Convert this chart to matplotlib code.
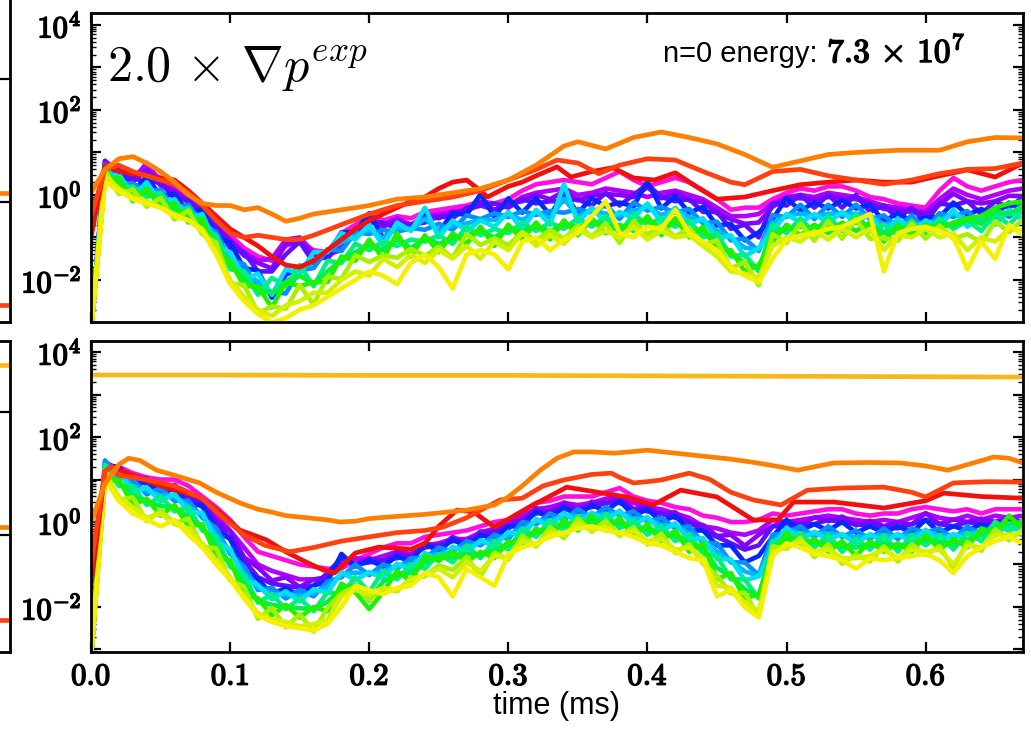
import numpy as np
import matplotlib
matplotlib.use('Agg')
import matplotlib.pyplot as plt
from matplotlib import patheffects
from matplotlib.ticker import FixedLocator, FuncFormatter, LogLocator, NullFormatter

plt.rcParams['mathtext.fontset'] = 'cm'

# sample times (ms) of the n>=3 mode energy traces
t_grid = np.round(np.arange(0, 0.675, 0.01), 2)

# ---------------- top panel : log10(energy) ----------------
top_n1 = [-3.2, 0.7, 0.6, 0.45, 0.55, 0.4, 0.15, 0.0, -0.3, -0.6,
          -0.95, -1.25, -1.45, -1.55, -1.2, -1.1, -1.3, -1.35, -0.9, -0.7,
          -0.45, -0.6, -0.5, -0.55, -0.4, -0.35, -0.3, -0.25, -0.15, -0.2,
          -0.1, 0.1, 0.25, 0.3, 0.35, 0.3, 0.25, 0.4, 0.55, 0.35,
          0.2, 0.3, 0.4, 0.3, 0.1, -0.1, -0.35, -0.3, -0.3, -0.1,
          0.05, 0.15, 0.1, 0.2, 0.2, 0.1, -0.05, -0.1, -0.2, -0.25,
          -0.3, 0.1, 0.4, 0.2, 0.1, 0.2, 0.3, 0.35]
top_n2 = [-3.2, 0.8, 0.55, 0.35, 0.75, 0.3, 0.1, -0.1, -0.35, -0.7,
          -1.05, -1.35, -1.55, -1.5, -1.05, -1.0, -1.35, -1.45, -1.1, -0.85,
          -0.6, -0.7, -0.55, -0.7, -0.5, -0.45, -0.4, -0.35, -0.25, -0.35,
          -0.25, -0.05, 0.05, 0.1, 0.15, 0.0, 0.05, 0.15, 0.1, 0.05,
          -0.05, 0.05, 0.1, 0.0, -0.1, -0.3, -0.5, -0.5, -0.45, -0.2,
          -0.05, 0.0, -0.05, 0.05, 0.0, -0.05, -0.15, -0.25, -0.3, -0.35,
          -0.4, -0.1, 0.15, 0.0, -0.1, 0.0, 0.1, 0.15]
top_xa = [-3.2, 0.72, 0.55, 0.3, 0.6, 0.22, 0.08, -0.18, -0.35, -0.78,
          -1.07, -1.43, -1.6, -1.73, -1.15, -1.13, -1.4, -1.5, -1.12, -0.9,
          -0.55, -0.75, -0.6, -0.78, -0.5, -0.55, -0.4, -0.4, -0.17, -0.35,
          -0.2, -0.15, 0.0, -0.1, 0.08, -0.13, -0.02, 0.02, 0.0, -0.05,
          0.18, -0.08, 0.05, -0.13, -0.17, -0.43, -0.57, -0.68, -0.65, -0.28,
          -0.07, -0.08, -0.1, -0.05, -0.07, -0.1, -0.2, -0.33, -0.35, -0.4,
          -0.45, -0.23, 0.03, -0.15, -0.2, -0.15, -0.02, -0.03]
top_n3 = [-3.2, 0.8, 0.4, 0.4, 0.3, 0.3, -0.1, -0.1, -0.5, -0.7,
          -1.25, -1.35, -1.8, -1.8, -1.4, -1.1, -1.6, -1.4, -1.3, -0.8,
          -0.65, -0.65, -0.8, -0.7, -0.65, -0.5, -0.55, -0.3, -0.25, -0.2,
          -0.3, -0.1, -0.2, -0.15, -0.15, -0.1, -0.25, 0.05, -0.25, 0.0,
          0.25, -0.05, -0.15, -0.1, -0.4, -0.4, -0.8, -0.7, -1.0, -0.2,
          -0.25, 0.0, -0.3, 0.0, -0.3, 0.0, -0.4, -0.25, -0.55, -0.3,
          -0.65, -0.2, -0.25, -0.15, -0.45, -0.15, -0.3, -0.05]
top_n4 = [-3.2, 0.53, 0.57, 0.08, 0.42, -0.02, 0.02, -0.42, -0.33, -0.97,
          -1.13, -1.72, -1.78, -2.42, -1.88, -1.72, -1.58, -1.42, -0.88, -0.87,
          -0.43, -1.02, -0.73, -0.82, -0.48, -0.87, -0.43, -0.47, 0.02, -0.52,
          -0.08, -0.42, -0.08, -0.47, 0.02, -0.42, -0.08, -0.27, -0.18, -0.27,
          0.32, -0.32, -0.03, -0.42, -0.28, -0.72, -0.68, -1.07, -0.88, -0.57,
          -0.08, -0.37, -0.18, -0.32, -0.13, -0.32, -0.23, -0.62, -0.43, -0.62,
          -0.53, -0.52, -0.18, -0.47, -0.33, -0.47, -0.18, -0.37]
top_n5 = [-3.2, 0.72, 0.28, 0.27, 0.08, 0.12, -0.32, -0.23, -0.67, -0.88,
          -1.52, -1.63, -2.22, -2.28, -2.32, -1.78, -1.72, -1.28, -1.32, -0.88,
          -0.92, -0.83, -0.87, -0.78, -0.82, -0.68, -0.82, -0.48, -0.57, -0.43,
          -0.52, -0.38, -0.47, -0.38, -0.42, -0.33, -0.42, -0.23, -0.57, -0.18,
          -0.37, -0.28, -0.42, -0.33, -0.67, -0.63, -1.07, -1.03, -1.32, -0.48,
          -0.52, -0.23, -0.57, -0.23, -0.52, -0.23, -0.57, -0.48, -0.77, -0.48,
          -0.82, -0.43, -0.52, -0.38, -0.67, -0.33, -0.52, -0.23]
top_xb = [-3.2, 0.56, 0.39, 0.11, 0.19, -0.04, -0.21, -0.39, -0.56, -1.04,
          -1.44, -1.82, -2.04, -2.32, -2.04, -1.82, -1.54, -1.32, -1.11, -0.97,
          -0.81, -1.02, -0.76, -0.82, -0.56, -0.84, -0.71, -0.67, -0.59, -0.59,
          -0.46, -0.59, -0.41, -0.54, -0.09, -0.49, -0.36, -0.44, -0.49, -0.37,
          -0.29, -0.47, -0.36, -0.52, -0.61, -0.84, -1.01, -1.24, -1.29, -0.67,
          -0.49, -0.44, -0.51, -0.44, -0.46, -0.44, -0.51, -0.69, -0.66, -0.67,
          -0.71, -0.59, -0.44, -0.57, -0.59, -0.52, -0.44, -0.42]
top_n6 = [-3.2, 0.4, 0.5, -0.05, 0.3, -0.2, -0.1, -0.55, -0.45, -1.2,
          -1.35, -2.0, -1.85, -2.35, -1.75, -1.85, -1.35, -1.35, -0.9, -1.05,
          -0.7, -1.2, -0.65, -0.85, -0.3, -1.0, -0.6, -0.85, -0.6, -0.75,
          -0.4, -0.8, -0.35, -0.7, 0.25, -0.65, -0.3, -0.65, -0.4, -0.55,
          -0.2, -0.65, -0.3, -0.7, -0.55, -1.05, -0.95, -1.45, -1.25, -0.85,
          -0.45, -0.65, -0.45, -0.65, -0.4, -0.65, -0.45, -0.9, -0.55, -0.85,
          -0.6, -0.75, -0.35, -0.75, -0.5, -0.7, -0.35, -0.6]
top_n7 = [-3.2, 0.7, 0.15, 0.2, -0.05, 0.05, -0.45, -0.3, -0.8, -0.95,
          -1.75, -1.8, -2.35, -1.95, -2.15, -1.65, -2.15, -1.55, -1.6, -1.15,
          -1.3, -1.1, -1.2, -1.05, -1.1, -0.95, -1.15, -0.75, -0.95, -0.8,
          -0.9, -0.65, -0.85, -0.65, -0.8, -0.55, -0.75, -0.5, -0.9, -0.45,
          -0.7, -0.55, -0.75, -0.6, -1.0, -0.9, -1.45, -1.4, -1.8, -0.7,
          -0.9, -0.55, -0.9, -0.5, -0.85, -0.45, -0.85, -0.7, -0.95, -0.6,
          -0.95, -0.55, -0.8, -0.6, -0.85, -0.45, -0.7, -0.35]
top_xc = [-3.2, 0.53, 0.28, 0.03, 0.05, -0.13, -0.33, -0.48, -0.68, -1.15,
          -1.65, -1.98, -2.25, -2.3, -2.1, -1.9, -2.1, -1.8, -1.53, -1.35,
          -1.18, -1.3, -1.05, -1.25, -1.03, -1.15, -1.03, -0.95, -0.85, -1.0,
          -0.8, -0.85, -0.75, -0.85, -0.7, -0.75, -0.65, -0.7, -0.8, -0.65,
          -0.6, -0.75, -0.65, -0.8, -0.88, -1.1, -1.38, -1.6, -1.73, -0.9,
          -0.8, -0.75, -0.8, -0.7, -0.75, -0.65, -0.75, -0.9, -0.83, -0.78,
          -0.83, -0.68, -0.73, -0.58, -0.68, -0.38, -0.45, -0.25]
top_n8 = [-3.2, 0.35, 0.4, -0.15, 0.15, -0.3, -0.2, -0.65, -0.55, -1.35,
          -1.55, -2.15, -2.15, -2.65, -2.05, -2.15, -2.05, -2.05, -1.45, -1.55,
          -1.05, -1.5, -0.9, -1.45, -0.95, -1.35, -0.9, -1.15, -0.75, -1.2,
          -0.7, -1.05, -0.65, -1.05, -0.6, -0.95, -0.55, -0.9, -0.7, -0.85,
          -0.5, -0.95, -0.55, -1.0, -0.75, -1.3, -1.3, -1.8, -1.65, -1.1,
          -0.7, -0.95, -0.7, -0.9, -0.65, -0.85, -0.65, -1.1, -0.7, -0.95,
          -0.7, -0.8, -0.65, -0.55, -0.5, -0.3, -0.2, -0.15]
top_n9 = [-3.2, 0.58, 0.02, 0.13, -0.28, -0.07, -0.58, -0.37, -0.93, -1.12,
          -2.08, -2.12, -2.78, -2.62, -2.68, -2.12, -2.58, -1.92, -1.98, -1.42,
          -1.58, -1.42, -1.48, -1.27, -1.43, -1.22, -1.48, -0.92, -1.18, -1.02,
          -1.18, -0.87, -1.08, -0.82, -1.03, -0.72, -0.98, -0.67, -1.13, -0.62,
          -0.93, -0.72, -0.98, -0.77, -1.18, -1.07, -1.73, -1.57, -2.13, -0.92,
          -1.13, -0.67, -1.08, -0.62, -1.03, -0.57, -1.03, -1.02, -1.08, -0.67,
          -1.03, -0.72, -1.03, -0.92, -1.13, -0.62, -0.88, -0.57]
top_xd = [-3.2, 0.45, 0.15, -0.05, -0.15, -0.3, -0.45, -0.6, -0.8, -1.35,
          -2.0, -2.4, -2.7, -2.85, -2.6, -2.5, -2.3, -2.3, -2.0, -1.8,
          -1.9, -1.5, -1.7, -1.4, -1.6, -1.3, -1.5, -1.2, -1.5, -1.1,
          -1.3, -0.9, -1.2, -0.95, -1.15, -0.8, -1.0, -0.85, -1.0, -0.75,
          -1.05, -0.85, -1.0, -0.95, -1.2, -1.45, -1.8, -1.85, -1.95, -1.2,
          -1.0, -1.1, -0.85, -1.05, -0.8, -1.0, -0.8, -1.3, -0.95, -1.0,
          -0.8, -1.0, -0.9, -1.3, -1.0, -1.1, -0.8, -0.85]
top_n10 = [-3.2, 0.3, 0.1, -0.1, -0.2, -0.3, -0.5, -0.6, -0.85, -1.4,
           -2.1, -2.5, -2.8, -3.0, -2.9, -2.7, -2.6, -2.4, -2.2, -2.0,
           -1.8, -1.9, -2.1, -1.6, -1.4, -1.7, -2.2, -1.4, -1.3, -1.4,
           -1.75, -1.1, -1.0, -1.3, -1.05, -0.9, -0.5, -0.15, -0.9, -1.0,
           -0.75, -0.8, -0.35, -0.9, -1.1, -1.3, -1.7, -1.9, -2.05, -1.5,
           -1.05, -0.95, -0.9, -0.8, -0.75, -0.6, -0.45, -1.8, -0.9, -0.8,
           -0.75, -0.85, -1.0, -1.75, -1.1, -1.5, -0.7, -0.95]

top_orange_t = [0.0, 0.01, 0.02, 0.03, 0.04, 0.05, 0.06, 0.07, 0.08, 0.09,
                0.10, 0.11, 0.12, 0.13, 0.14, 0.15, 0.16, 0.18, 0.20, 0.22,
                0.24, 0.26, 0.28, 0.30, 0.32, 0.34, 0.35, 0.37, 0.39, 0.41,
                0.43, 0.45, 0.47, 0.49, 0.51, 0.53, 0.55, 0.58, 0.61, 0.63,
                0.65, 0.67]
top_orange = [0.05, 0.6, 0.85, 0.9, 0.75, 0.55, 0.3, 0.0, -0.2, -0.25,
              -0.25, -0.35, -0.3, -0.45, -0.62, -0.55, -0.45, -0.35, -0.25, -0.1,
              -0.05, 0.05, 0.15, 0.35, 0.7, 1.15, 1.25, 1.08, 1.35, 1.48,
              1.35, 1.2, 0.95, 0.65, 0.8, 0.95, 1.0, 1.05, 1.05, 1.25,
              1.35, 1.34]
top_redor_t = [0.0, 0.01, 0.02, 0.03, 0.04, 0.05, 0.06, 0.07, 0.08, 0.09,
               0.10, 0.11, 0.12, 0.13, 0.14, 0.15, 0.16, 0.18, 0.20, 0.22,
               0.24, 0.26, 0.28, 0.30, 0.32, 0.335, 0.35, 0.365, 0.38, 0.40,
               0.42, 0.44, 0.46, 0.47, 0.49, 0.51, 0.53, 0.55, 0.57, 0.59,
               0.61, 0.63, 0.65, 0.67]
top_redor = [-0.5, 0.6, 0.7, 0.55, 0.45, 0.35, 0.25, 0.05, -0.25, -0.6,
             -0.9, -1.0, -0.95, -1.0, -1.05, -1.05, -0.95, -0.7, -0.45, -0.25,
             -0.15, -0.05, 0.1, 0.35, 0.6, 0.82, 0.75, 0.5, 0.7, 0.85,
             0.82, 0.55, 0.3, 0.24, 0.55, 0.6, 0.45, 0.35, 0.25, 0.35,
             0.5, 0.6, 0.62, 0.75]
top_red_t = [0.0, 0.01, 0.02, 0.03, 0.04, 0.05, 0.06, 0.07, 0.08, 0.09,
             0.10, 0.11, 0.12, 0.13, 0.14, 0.15, 0.16, 0.17, 0.18, 0.19,
             0.20, 0.21, 0.22, 0.23, 0.24, 0.25, 0.26, 0.27, 0.28, 0.285,
             0.30, 0.31, 0.32, 0.335, 0.345, 0.36, 0.375, 0.39, 0.405, 0.42,
             0.435, 0.45, 0.47, 0.49, 0.51, 0.53, 0.55, 0.57, 0.59, 0.61,
             0.63, 0.65, 0.67]
top_red = [-1.0, 0.7, 0.55, 0.5, 0.45, 0.4, 0.35, 0.1, -0.2, -0.5,
           -0.8, -1.0, -1.2, -1.45, -1.65, -1.7, -1.55, -1.3, -1.05, -0.8,
           -0.6, -0.45, -0.3, -0.15, -0.05, 0.15, 0.3, 0.35, 0.1, -0.05,
           0.2, 0.3, 0.45, 0.66, 0.42, 0.55, 0.64, 0.4, 0.35, 0.52,
           0.2, -0.1, -0.05, 0.1, 0.24, 0.3, 0.35, 0.3, 0.3, 0.45,
           0.59, 0.42, 0.75]

# ---------------- bottom panel : log10(energy) ----------------
bot_n1 = [-3.2, 1.3, 1.3, 1.15, 1.05, 1.0, 1.0, 0.85, 0.6, 0.35,
          0.05, -0.35, -0.7, -0.8, -0.9, -1.0, -1.05, -1.1, -1.1, -0.9,
          -0.75, -0.6, -0.5, -0.5, -0.35, -0.3, -0.25, -0.2, -0.1, 0.0,
          0.05, 0.25, 0.45, 0.5, 0.6, 0.6, 0.6, 0.7, 0.8, 0.6,
          0.5, 0.45, 0.35, 0.3, 0.15, 0.1, 0.0, 0.0, 0.05, 0.2,
          0.15, 0.2, 0.25, 0.3, 0.3, 0.2, 0.15, 0.2, 0.2, 0.3,
          0.35, 0.3, 0.25, 0.3, 0.2, 0.3, 0.3, 0.3]
bot_n2 = [-3.2, 1.35, 1.2, 1.1, 1.0, 0.9, 0.85, 0.7, 0.45, 0.15,
          -0.2, -0.6, -1.0, -1.15, -1.25, -1.35, -1.35, -1.3, -1.0, -0.85,
          -0.9, -0.8, -0.7, -0.75, -0.55, -0.5, -0.4, -0.4, -0.25, -0.15,
          -0.05, 0.15, 0.3, 0.35, 0.45, 0.4, 0.45, 0.55, 0.6, 0.45,
          0.35, 0.3, 0.2, 0.1, -0.1, -0.15, -0.25, -0.3, -0.2, 0.05,
          0.0, 0.05, 0.1, 0.15, 0.1, 0.05, 0.0, 0.05, 0.0, 0.1,
          0.2, 0.1, 0.05, 0.15, 0.05, 0.15, 0.1, 0.15]
bot_xa = [-3.2, 1.3, 1.3, 0.97, 1.03, 0.8, 0.88, 0.57, 0.48, 0.0,
          -0.22, -0.83, -1.07, -1.38, -1.3, -1.53, -1.35, -1.33, -0.85, -1.0,
          -0.85, -0.93, -0.7, -0.86, -0.5, -0.6, -0.35, -0.51, -0.22, -0.26,
          -0.02, 0.02, 0.33, 0.22, 0.46, 0.27, 0.48, 0.42, 0.6, 0.3,
          0.38, 0.17, 0.23, -0.03, -0.07, -0.33, -0.3, -0.56, -0.3, -0.1,
          0.03, -0.08, 0.11, 0.02, 0.13, -0.08, 0.03, -0.1, 0.0, -0.06,
          0.21, -0.05, 0.06, 0.0, 0.08, 0.0, 0.13, -0.03]
bot_n3 = [-3.2, 1.4, 1.25, 1.0, 0.9, 0.85, 0.75, 0.6, 0.35, 0.0,
          -0.4, -0.9, -1.3, -1.45, -1.5, -1.55, -1.5, -1.2, -0.85, -1.0,
          -0.95, -0.9, -0.85, -0.8, -0.6, -0.55, -0.45, -0.45, -0.35, -0.2,
          -0.15, 0.05, 0.2, 0.25, 0.3, 0.3, 0.35, 0.45, 0.45, 0.3,
          0.25, 0.2, 0.1, 0.0, -0.2, -0.35, -0.5, -0.65, -0.55, -0.1,
          -0.1, -0.05, -0.05, 0.05, 0.0, -0.05, -0.1, -0.1, -0.15, -0.05,
          0.05, -0.05, -0.1, 0.0, -0.05, 0.0, 0.0, -0.05]
bot_n4 = [-3.2, 1.3, 1.3, 0.85, 0.95, 0.65, 0.8, 0.4, 0.4, -0.2,
          -0.4, -1.1, -1.35, -1.7, -1.55, -1.75, -1.5, -1.4, -0.75, -1.05,
          -0.9, -1.05, -0.8, -0.95, -0.5, -0.7, -0.4, -0.6, -0.3, -0.4,
          -0.1, -0.1, 0.25, 0.1, 0.35, 0.15, 0.4, 0.25, 0.5, 0.15,
          0.3, 0.0, 0.15, -0.2, -0.2, -0.55, -0.55, -0.95, -0.8, -0.35,
          0.05, -0.2, -0.05, -0.2, 0.0, -0.25, -0.1, -0.25, -0.1, -0.25,
          0.05, -0.25, -0.1, -0.2, -0.05, -0.2, 0.05, -0.2]
bot_n5 = [-3.2, 1.45, 1.05, 1.0, 0.65, 0.8, 0.5, 0.5, 0.1, -0.15,
          -0.75, -1.05, -1.6, -1.55, -1.8, -1.6, -1.75, -1.4, -1.3, -1.0,
          -1.25, -1.0, -1.1, -0.85, -0.85, -0.6, -0.7, -0.45, -0.55, -0.3,
          -0.4, 0.0, -0.05, 0.2, 0.05, 0.3, 0.1, 0.35, 0.15, 0.25,
          0.0, 0.1, -0.15, -0.1, -0.5, -0.5, -0.95, -0.95, -1.25, -0.3,
          -0.25, -0.1, -0.35, -0.1, -0.35, -0.2, -0.4, -0.15, -0.4, -0.15,
          -0.25, -0.15, -0.4, -0.1, -0.3, -0.05, -0.2, -0.05]
bot_xb = [-3.2, 1.32, 1.14, 0.84, 0.74, 0.64, 0.59, 0.37, 0.16, -0.31,
          -0.69, -1.21, -1.54, -1.69, -1.72, -1.74, -1.67, -1.54, -1.24, -1.19,
          -1.22, -1.16, -1.04, -0.99, -0.79, -0.76, -0.64, -0.59, -0.49, -0.44,
          -0.32, -0.16, 0.01, 0.04, 0.14, 0.14, 0.16, 0.19, 0.21, 0.09,
          0.06, -0.06, -0.09, -0.26, -0.44, -0.69, -0.92, -1.16, -1.27, -0.46,
          -0.19, -0.26, -0.29, -0.26, -0.32, -0.36, -0.34, -0.31, -0.34, -0.31,
          -0.22, -0.31, -0.34, -0.26, -0.24, -0.19, -0.12, -0.19]
bot_n6 = [-3.2, 1.18, 1.22, 0.68, 0.82, 0.48, 0.67, 0.23, 0.22, -0.47,
          -0.63, -1.37, -1.48, -1.82, -1.63, -1.87, -1.58, -1.67, -1.18, -1.37,
          -1.18, -1.32, -0.98, -1.12, -0.73, -0.92, -0.58, -0.72, -0.43, -0.57,
          -0.23, -0.32, 0.07, -0.12, 0.22, -0.02, 0.22, 0.03, 0.27, -0.07,
          0.12, -0.22, -0.03, -0.42, -0.38, -0.87, -0.88, -1.37, -1.28, -0.62,
          -0.13, -0.42, -0.23, -0.42, -0.28, -0.52, -0.28, -0.47, -0.28, -0.47,
          -0.18, -0.47, -0.28, -0.42, -0.18, -0.32, -0.03, -0.32]
bot_n7 = [-3.2, 1.35, 0.85, 0.85, 0.4, 0.6, 0.25, 0.35, -0.2, -0.35,
          -1.05, -1.25, -1.9, -1.7, -2.05, -1.8, -2.1, -1.65, -1.7, -1.3,
          -1.65, -1.15, -1.35, -1.0, -1.1, -0.75, -0.95, -0.55, -0.85, -0.45,
          -0.65, -0.15, -0.35, 0.05, -0.2, 0.15, -0.15, 0.2, -0.15, 0.05,
          -0.3, -0.1, -0.45, -0.3, -0.75, -0.8, -1.35, -1.35, -1.8, -0.45,
          -0.5, -0.25, -0.6, -0.3, -0.7, -0.4, -0.65, -0.3, -0.7, -0.3,
          -0.55, -0.3, -0.65, -0.25, -0.45, 0.0, -0.2, 0.05]
bot_xc = [-3.2, 1.15, 0.93, 0.63, 0.48, 0.38, 0.33, 0.13, -0.13, -0.58,
          -0.98, -1.48, -1.85, -1.95, -2.0, -2.03, -2.05, -1.88, -1.58, -1.48,
          -1.85, -1.4, -1.25, -1.2, -0.95, -0.83, -0.83, -0.75, -0.78, -0.65,
          -0.55, -0.35, -0.25, -0.15, -0.08, -0.03, 0.0, 0.0, -0.03, -0.15,
          -0.18, -0.28, -0.33, -0.5, -0.63, -1.08, -1.28, -1.58, -1.75, -0.63,
          -0.38, -0.43, -0.5, -0.5, -0.58, -0.6, -0.55, -0.5, -0.6, -0.5,
          -0.43, -0.48, -0.53, -0.43, -0.3, -0.13, -0.03, -0.05]
bot_n8 = [-3.2, 0.95, 1.0, 0.4, 0.55, 0.15, 0.4, -0.1, -0.05, -0.8,
          -0.9, -1.7, -1.8, -2.2, -1.95, -2.25, -2.0, -2.1, -1.45, -1.65,
          -2.05, -1.65, -1.15, -1.4, -0.8, -0.9, -0.7, -0.95, -0.7, -0.85,
          -0.45, -0.55, -0.15, -0.35, 0.05, -0.2, 0.15, -0.2, 0.1, -0.35,
          -0.05, -0.45, -0.2, -0.7, -0.5, -1.35, -1.2, -1.8, -1.7, -0.8,
          -0.25, -0.6, -0.4, -0.7, -0.45, -0.8, -0.45, -0.7, -0.5, -0.7,
          -0.3, -0.65, -0.4, -0.6, -0.15, -0.25, 0.15, -0.15]
bot_n9 = [-3.2, 1.23, 0.52, 0.58, 0.02, 0.28, -0.03, 0.08, -0.58, -0.62,
          -1.38, -1.52, -2.28, -2.02, -2.48, -2.17, -2.58, -2.02, -1.68, -1.52,
          -1.83, -1.57, -1.63, -1.32, -1.28, -1.02, -1.13, -0.82, -1.28, -0.72,
          -0.88, -0.32, -0.58, -0.12, -0.38, 0.08, -0.23, 0.03, -0.33, -0.12,
          -0.53, -0.27, -0.73, -0.52, -0.98, -1.27, -1.68, -1.67, -2.23, -0.57,
          -0.63, -0.37, -0.83, -0.52, -0.98, -0.77, -0.93, -0.57, -0.93, -0.52,
          -0.78, -0.57, -1.08, -0.47, -0.68, -0.17, -0.43, -0.17]
bot_xd = [-3.2, 1.1, 0.6, 0.35, 0.1, 0.2, -0.05, -0.15, -0.5, -0.9,
          -1.3, -1.75, -2.15, -2.3, -2.35, -2.45, -2.4, -2.3, -1.75, -1.6,
          -1.7, -1.55, -1.6, -1.35, -1.25, -1.1, -1.3, -0.95, -1.15, -0.8,
          -0.85, -0.45, -0.55, -0.25, -0.3, -0.05, -0.2, -0.1, -0.3, -0.2,
          -0.45, -0.4, -0.65, -0.6, -0.85, -1.5, -1.55, -1.9, -2.1, -0.7,
          -0.6, -0.45, -0.7, -0.65, -0.85, -0.85, -0.8, -0.65, -0.85, -0.65,
          -0.7, -0.65, -1.0, -0.55, -0.6, -0.3, -0.3, -0.25]
bot_n10 = [-3.2, 1.0, 0.5, 0.2, 0.05, -0.1, 0.05, -0.3, -0.6, -1.0,
           -1.35, -1.8, -2.2, -2.35, -2.45, -2.5, -2.55, -2.4, -2.0, -1.5,
           -1.6, -1.7, -1.55, -1.5, -1.2, -1.3, -1.75, -1.1, -1.3, -1.5,
           -0.75, -0.6, -0.5, -0.35, -0.25, -0.15, -0.1, -0.2, -0.25, -0.35,
           -0.5, -0.55, -0.7, -0.85, -0.9, -1.75, -1.6, -2.0, -2.25, -0.8,
           -0.5, -0.6, -0.75, -0.8, -0.9, -1.1, -0.85, -0.9, -0.85, -0.8,
           -0.75, -0.9, -1.2, -0.8, -0.6, -0.45, -0.35, -0.5]

bot_orange_t = [0.0, 0.01, 0.02, 0.027, 0.035, 0.047, 0.06, 0.078, 0.09, 0.107,
                0.12, 0.129, 0.14, 0.155, 0.17, 0.179, 0.19, 0.20, 0.215, 0.24,
                0.27, 0.29, 0.30, 0.31, 0.323, 0.335, 0.347, 0.36, 0.376, 0.39,
                0.40, 0.42, 0.44, 0.46, 0.479, 0.495, 0.508, 0.52, 0.534, 0.56,
                0.582, 0.60, 0.616, 0.63, 0.649, 0.66, 0.67]
bot_orange = [0.0, 0.9, 1.35, 1.5, 1.45, 1.22, 1.1, 0.92, 0.7, 0.45,
              0.3, 0.24, 0.15, 0.1, 0.05, 0.0, 0.02, 0.08, 0.12, 0.18,
              0.28, 0.4, 0.59, 0.85, 1.22, 1.5, 1.65, 1.65, 1.62, 1.66,
              1.69, 1.62, 1.55, 1.48, 1.39, 1.3, 1.22, 1.3, 1.39, 1.4,
              1.39, 1.32, 1.22, 1.35, 1.53, 1.5, 1.39]
bot_redor_t = [0.0, 0.01, 0.015, 0.02, 0.04, 0.06, 0.08, 0.095, 0.11, 0.125,
               0.143, 0.16, 0.18, 0.20, 0.22, 0.24, 0.253, 0.27, 0.294, 0.31,
               0.325, 0.34, 0.36, 0.374, 0.38, 0.39, 0.40, 0.41, 0.43, 0.445,
               0.46, 0.476, 0.496, 0.515, 0.54, 0.57, 0.59, 0.60, 0.62, 0.645,
               0.67]
bot_redor = [-1.0, 1.2, 1.3, 1.1, 1.0, 0.85, 0.55, 0.1, -0.3, -0.55,
             -0.7, -0.6, -0.45, -0.35, -0.25, -0.2, -0.12, 0.1, 0.52, 0.56,
             0.85, 0.99, 1.12, 1.15, 1.05, 0.92, 0.95, 0.99, 1.15, 1.0,
             0.7, 0.52, 0.4, 0.75, 0.8, 0.82, 0.7, 0.59, 0.92, 0.95,
             0.94]
bot_red_t = [0.0, 0.01, 0.015, 0.03, 0.035, 0.05, 0.078, 0.09, 0.107, 0.126,
             0.14, 0.155, 0.167, 0.175, 0.19, 0.207, 0.23, 0.24, 0.25, 0.263,
             0.275, 0.29, 0.315, 0.342, 0.355, 0.385, 0.404, 0.424, 0.45, 0.476,
             0.494, 0.505, 0.534, 0.57, 0.60, 0.613, 0.64, 0.67]
bot_red = [-1.5, 1.2, 1.3, 1.1, 1.03, 0.85, 0.59, 0.3, -0.19, -0.42,
           -0.7, -0.95, -1.13, -1.2, -0.73, -0.59, -0.64, -0.5, -0.1, 0.28,
           0.24, -0.12, 0.35, 0.82, 0.75, 0.59, 0.4, 0.75, 0.59, 0.05,
           0.05, 0.47, 0.47, 0.33, 0.5, 0.68, 0.6, 0.56]
bot_flat_t = [0.0, 0.1, 0.2, 0.3, 0.4, 0.5, 0.6, 0.67]
bot_flat = [3.46, 3.46, 3.45, 3.45, 3.44, 3.43, 3.42, 3.41]

# neighbouring panel (only its right edge is in the picture)
frag_t = [0.9, 1.0]
frag_top_orange = [0.15, 0.15]
frag_top_redor = [-1.67, -1.67]
frag_bot_yellow = [2.76, 2.76]
frag_bot_orange = [0.13, 0.13]
frag_bot_redor = [-1.38, -1.38]

top_modes = [top_n1, top_n2, top_xa, top_n3, top_n4, top_n5, top_xb,
             top_n6, top_n7, top_xc, top_n8, top_n9, top_xd, top_n10]
bot_modes = [bot_n1, bot_n2, bot_xa, bot_n3, bot_n4, bot_n5, bot_xb,
             bot_n6, bot_n7, bot_xc, bot_n8, bot_n9, bot_xd, bot_n10]
mode_colors = ['#ff10e0', '#b000ff', '#8800ff', '#6010ff', '#0028ff', '#0090ff', '#00b8ff',
               '#00e0f0', '#00f080', '#00f040', '#20f000', '#a8f000', '#d4f000', '#f4f000']
c_orange = '#ff8000'
c_redor = '#ff4010'
c_red = '#f01010'
c_flat = '#f8b818'

bold = [patheffects.withStroke(linewidth=1.1, foreground='black')]


def setup_axis(ax, show_xlabels):
    ax.set_yscale('log')
    ax.set_xlim(0, 0.67)
    ax.yaxis.set_major_locator(FixedLocator([10.0 ** k for k in range(-3, 5)]))
    ax.yaxis.set_major_formatter(FuncFormatter(
        lambda v, p: r'$10^{%d}$' % round(np.log10(v)) if round(np.log10(v)) % 2 == 0 else ''))
    ax.yaxis.set_minor_locator(LogLocator(base=10, subs=np.arange(2, 10), numticks=30))
    ax.yaxis.set_minor_formatter(NullFormatter())
    ax.set_xticks([0.0, 0.1, 0.2, 0.3, 0.4, 0.5, 0.6])
    if show_xlabels:
        ax.set_xticklabels([r'$%.1f$' % v for v in ax.get_xticks()])
    else:
        ax.set_xticklabels([])
    ax.tick_params(which='major', direction='in', length=7, width=1.6,
                   top=True, right=True, labelsize=22, pad=7)
    ax.tick_params(which='minor', direction='in', length=3.5, width=1.0,
                   top=True, right=True)
    for lbl in ax.get_xticklabels() + ax.get_yticklabels():
        lbl.set_path_effects(bold)
    for s in ax.spines.values():
        s.set_linewidth(2.0)


fig = plt.figure(figsize=(10.31, 7.29), dpi=100)

ax1 = fig.add_axes([0.0883, 0.5583, 0.9039, 0.4239])
ax2 = fig.add_axes([0.0883, 0.1056, 0.9039, 0.4266])

for ax, modes in [(ax1, top_modes), (ax2, bot_modes)]:
    for vals, col in zip(modes, mode_colors):
        ax.plot(t_grid, 10.0 ** np.array(vals), color=col, lw=3.3)

ax1.plot(top_red_t, 10.0 ** np.array(top_red), color=c_red, lw=3.4)
ax1.plot(top_redor_t, 10.0 ** np.array(top_redor), color=c_redor, lw=3.4)
ax1.plot(top_orange_t, 10.0 ** np.array(top_orange), color=c_orange, lw=3.4)

ax2.plot(bot_red_t, 10.0 ** np.array(bot_red), color=c_red, lw=3.4)
ax2.plot(bot_redor_t, 10.0 ** np.array(bot_redor), color=c_redor, lw=3.4)
ax2.plot(bot_orange_t, 10.0 ** np.array(bot_orange), color=c_orange, lw=3.4)
ax2.plot(bot_flat_t, 10.0 ** np.array(bot_flat), color=c_flat, lw=3.4)

setup_axis(ax1, False)
setup_axis(ax2, True)
ax1.set_ylim(10 ** -2.99, 10 ** 4.28)
ax2.set_ylim(10 ** -3.06, 10 ** 4.26)

ax1.text(0.017, 0.777, r'$2.0\,\times\,\nabla p^{exp}$', transform=ax1.transAxes,
         fontsize=36, va='baseline', ha='left')
ax1.text(0.614, 0.841, 'n=0 energy:', transform=ax1.transAxes,
         fontsize=21, va='baseline', ha='left', family='Liberation Sans')
ax1.text(0.79, 0.841, r'$7.3\,\times\,10^{7}$', transform=ax1.transAxes,
         fontsize=24, va='baseline', ha='left', path_effects=bold)

ax2.set_xlabel('time (ms)', fontsize=22, family='Liberation Sans', labelpad=0)

# right edge of the neighbouring panels
fa = fig.add_axes([-0.5, 0.5583, 0.5097, 0.4917])
fb = fig.add_axes([-0.5, 0.1056, 0.5097, 0.4266])
fa.plot(frag_t, 10.0 ** np.array(frag_top_orange), color=c_orange, lw=3.3)
fa.plot(frag_t, 10.0 ** np.array(frag_top_redor), color=c_redor, lw=3.3)
fb.plot(frag_t, 10.0 ** np.array(frag_bot_yellow), color=c_flat, lw=3.3)
fb.plot(frag_t, 10.0 ** np.array(frag_bot_orange), color=c_orange, lw=3.3)
fb.plot(frag_t, 10.0 ** np.array(frag_bot_redor), color=c_redor, lw=3.3)
for f in (fa, fb):
    f.set_yscale('log')
    f.set_xlim(0, 1)
    f.set_xticks([])
    f.yaxis.set_major_locator(FixedLocator([1e-2, 1.0, 1e2]))
    f.yaxis.set_minor_locator(FixedLocator([]))
    f.tick_params(axis='y', direction='in', length=7, width=1.6, left=False, right=True,
                  labelleft=False, labelright=False)
    for s in f.spines.values():
        s.set_linewidth(2.0)
fa.set_ylim(10 ** -1.95, 10 ** 3.877)
fb.set_ylim(10 ** -1.902, 10 ** 3.154)

fig.savefig('out.png', dpi=100)
